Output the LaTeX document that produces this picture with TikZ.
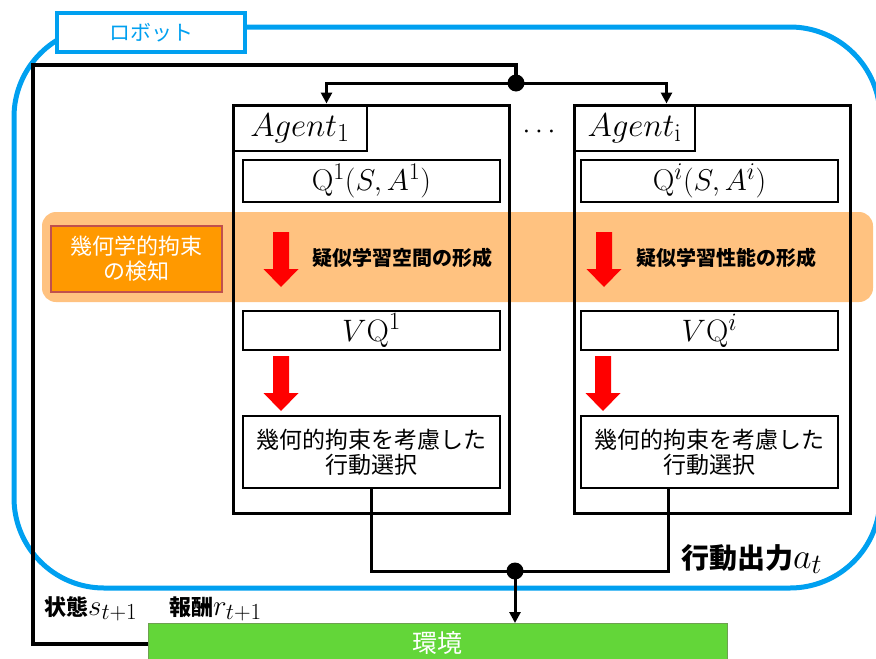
\RequirePackage{fix-cm}
\documentclass[tikz,border=0pt]{standalone}
\usepackage{fontspec}
\newfontfamily\jp{Noto Sans CJK JP}
\usetikzlibrary{arrows.meta}
\DeclareMathSizes{33}{33}{26}{20}
\DeclareMathSizes{30}{30}{24}{18}
\DeclareMathSizes{31}{31}{25}{19}
\DeclareMathSizes{36}{36}{28}{21}
\DeclareMathSizes{29}{29}{23}{17}
\definecolor{robotblue}{RGB}{0,160,240}
\definecolor{bandorange}{RGB}{255,194,128}
\definecolor{detectfill}{RGB}{255,153,0}
\definecolor{detectedge}{RGB}{192,80,77}
\definecolor{envgreen}{RGB}{99,214,57}
\definecolor{envedge}{RGB}{110,160,80}
\newcommand\mfs[2]{{\fontsize{#1}{#1}\selectfont$#2$}}
\tikzset{
  fs/.style={font=\fontsize{#1}{#1}\selectfont},
  agentbox/.style={draw, line width=3pt, inner sep=0pt},
  labelbox/.style={draw, line width=2.6pt, inner sep=0pt},
  innerbox/.style={draw, line width=1.3pt, inner sep=0pt, minimum width=257pt},
  wire/.style={line width=3pt, black},
  fwire/.style={line width=3.8pt, black},
  tip/.style={-{Triangle[length=11pt,width=11pt]}},
  redarr/.pic={\fill[red] (-8,0) -- (8,0) -- (8,37) -- (17.5,37) -- (0,55) -- (-17.5,37) -- (-8,37) -- cycle;},
  jdot/.style={circle, fill=black, inner sep=0pt, minimum size=#1}
}
\begin{document}
\begin{tikzpicture}[x=1pt,y=-1pt]
\useasboundingbox (0,0) rectangle (876,659);
\clip (0,0) rectangle (876,659);
% robot frame
\draw[robotblue, line width=5pt, rounded corners=90pt] (14,27) rectangle (880,588);
\node[draw=robotblue, fill=white, line width=4pt, minimum width=188pt, minimum height=39pt, inner sep=0pt, text=robotblue, fs=21] (robot) at (151,32.5) {\jp ロボット};
% orange band
\node[fill=bandorange, rounded corners=14pt, minimum width=831pt, minimum height=90pt, inner sep=0pt] (band) at (457.5,257) {};
\node[draw=detectedge, fill=detectfill, line width=1.5pt, minimum width=171pt, minimum height=66pt, inner sep=0pt, text=white, align=center, fs=22] (detect) at (136.5,259) {\jp 幾何学的拘束\\[3pt]\jp の検知};
% agents
\node[agentbox, minimum width=276pt, minimum height=408pt] (a1) at (371,309) {};
\node[agentbox, minimum width=276pt, minimum height=408pt] (ai) at (712,309) {};
\node[labelbox, minimum width=134pt, minimum height=46pt, fs=33] (l1) at (300,128) {$Agent_1$};
\node[labelbox, minimum width=121pt, minimum height=46pt, fs=33] (li) at (634.5,128) {$Agent_{\mathrm{i}}$};
\node[fs=28, inner sep=0pt] (dots) at (539,132) {$\cdots$};
\node[innerbox, minimum height=42pt, fs=30] (q1) at (371.5,181) {$\mathrm{Q}^1(S,A^1)$};
\node[innerbox, minimum height=42pt, fs=30] (qi) at (709.5,181) {$\mathrm{Q}^i(S,A^i)$};
\node[innerbox, minimum height=39pt, fs=31] (vq1) at (371.5,330.5) {$V\mathrm{Q}^1$};
\node[innerbox, minimum height=39pt, fs=31] (vqi) at (709.5,330.5) {$V\mathrm{Q}^i$};
\node[innerbox, minimum height=72pt, align=center, fs=23] (s1) at (371.5,452) {\jp 幾何的拘束を考慮した\\[2pt]\jp 行動選択};
\node[innerbox, minimum height=72pt, align=center, fs=23] (si) at (709.5,452) {\jp 幾何的拘束を考慮した\\[2pt]\jp 行動選択};
% red arrows
\pic at (281,232) {redarr};
\pic at (604,232) {redarr};
\pic at (281,356) {redarr};
\pic at (603,356) {redarr};
\node[anchor=west, inner sep=0pt, fs=20] (t1) at (312,258) {\jp\bfseries 疑似学習空間の形成};
\node[anchor=west, inner sep=0pt, fs=20] (ti) at (636,258) {\jp\bfseries 疑似学習性能の形成};
% environment
\node[draw=envedge, fill=envgreen, line width=1pt, minimum width=579pt, minimum height=48pt, inner sep=0pt, anchor=north west] (env) at (148,623) {};
\node[text=white, fs=25, inner sep=0pt] (envt) at (437.5,643) {\jp 環境};
% top distribution
\node[jdot=17pt] (jt) at (516,83) {};
\coordinate (c1) at ([xshift=95pt]a1.north west);
\coordinate (ci) at ([xshift=94pt]ai.north west);
\draw[wire, tip] (jt.center) -| (c1);
\draw[wire, tip] (jt.center) -| (ci);
% feedback line
\coordinate (fbl) at (33,644);
\draw[fwire, line join=miter] (env.west |- fbl) -- (fbl) -- (33,65) -| (jt.center);
% output
\coordinate (o1) at ([xshift=-0.5pt]s1.south);
\coordinate (oi) at ([xshift=88pt]si.south west);
\node[jdot=17pt] (jb) at (515,571) {};
\draw[wire] (o1) -- (o1 |- jb) -- (oi |- jb) -- (oi);
\draw[wire, tip] (jb.center) -- (jb.center |- env.north);
% labels
\node[anchor=base west, inner sep=0pt, fs=28] (out) at (681,568) {\jp\bfseries 行動出力\mfs{36}{a_t}};
\node[anchor=base west, inner sep=0pt, fs=22] (st) at (44,615) {\jp\bfseries 状態\mfs{29}{s_{t+1}}};
\node[anchor=base west, inner sep=0pt, fs=22] (rw) at (169,615) {\jp\bfseries 報酬\mfs{29}{r_{t+1}}};
\end{tikzpicture}
\end{document}
